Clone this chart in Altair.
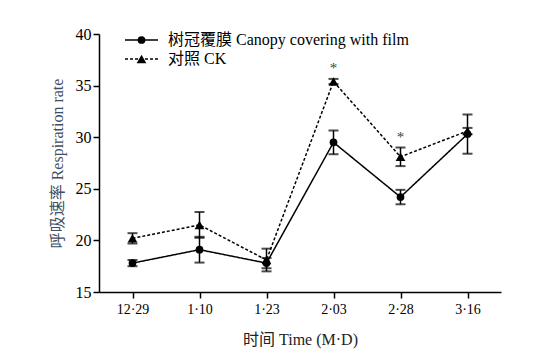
import altair as alt
import pandas as pd

dates = ["12·29", "1·10", "1·23", "2·03", "2·28", "3·16"]
film = [17.8, 19.1, 17.8, 29.5, 24.2, 30.3]
film_err = [0.3, 1.25, 0.5, 1.15, 0.7, 1.9]
ck = [20.2, 21.5, 18.1, 35.4, 28.1, 30.6]
ck_err = [0.5, 1.25, 1.1, 0.25, 0.9, 0.3]
sig_dates = ["2·03", "2·28"]
sig_y = [36.7, 30.0]
series_names = ["树冠覆膜 Canopy covering with film", "对照 CK"]
y_ticks = [15, 20, 25, 30, 35, 40]

FONT = "Liberation Serif, Noto Sans CJK SC"

rows = []
for name, vals, errs in [(series_names[0], film, film_err), (series_names[1], ck, ck_err)]:
    for d, v, e in zip(dates, vals, errs):
        rows.append(dict(date=d, series=name, value=v, lo=v - e, hi=v + e))
df = pd.DataFrame(rows)
sig_df = pd.DataFrame({"date": sig_dates, "y": sig_y})

x_enc = alt.X(
    "date:O",
    sort=dates,
    scale=alt.Scale(type="point", domain=dates, padding=0.5),
    axis=alt.Axis(title="时间 Time (M·D)", labelAngle=0, labelFontSize=14, labelFont=FONT,
                  titlePadding=15, labelPadding=4),
)
y_scale = alt.Scale(domain=[15, 40], nice=False, zero=False)
y_axis = alt.Axis(title="呼吸速率 Respiration rate", values=y_ticks, labelFontSize=16,
                  labelFont=FONT, titlePadding=10, labelPadding=2, titleColor="#3d4f66")

dash_scale = alt.Scale(domain=series_names, range=[[1, 0], [3, 2]])
shape_scale = alt.Scale(domain=series_names, range=["circle", "triangle-up"])
size_scale = alt.Scale(domain=series_names, range=[60, 95])

base = alt.Chart(df)

lines = base.mark_line(color="black", strokeWidth=1.5).encode(
    x=x_enc,
    y=alt.Y("value:Q", scale=y_scale, axis=y_axis),
    strokeDash=alt.StrokeDash("series:N", scale=dash_scale, legend=None),
    detail="series:N",
)
bars = base.mark_rule(color="black", strokeWidth=1.5).encode(
    x=alt.X("date:O", sort=dates), y="lo:Q", y2="hi:Q"
)
cap_lo = base.mark_tick(color="black", size=10, thickness=2).encode(
    x=alt.X("date:O", sort=dates), y="lo:Q"
)
cap_hi = base.mark_tick(color="black", size=10, thickness=2).encode(
    x=alt.X("date:O", sort=dates), y="hi:Q"
)
points = base.mark_point(filled=True, color="black", opacity=1).encode(
    x=alt.X("date:O", sort=dates),
    y="value:Q",
    shape=alt.Shape("series:N", scale=shape_scale, legend=None),
    size=alt.Size("series:N", scale=size_scale, legend=None),
)
stars = alt.Chart(sig_df).mark_text(text="*", font=FONT, fontSize=15, color="#444",
                                    baseline="middle").encode(
    x=alt.X("date:O", sort=dates), y="y:Q"
)

# manual legend
leg_layers = []
leg_specs = [(series_names[0], [1, 0], "circle", 60, 6), (series_names[1], [3, 2], "triangle-up", 95, 25)]
for name, dash, shp, sz, yy in leg_specs:
    ldf = pd.DataFrame({"label": [name]})
    leg_layers.append(alt.Chart(ldf).mark_rule(color="black", strokeWidth=1.5, strokeDash=dash).encode(
        x=alt.value(26), x2=alt.value(59), y=alt.value(yy)))
    leg_layers.append(alt.Chart(ldf).mark_point(filled=True, color="black", opacity=1, size=sz,
                                                shape=shp).encode(
        x=alt.value(42.5), y=alt.value(yy)))
    leg_layers.append(alt.Chart(ldf).mark_text(align="left", baseline="middle", font=FONT,
                                               fontSize=16, color="black").encode(
        x=alt.value(69), y=alt.value(yy), text="label:N"))

chart = alt.layer(lines, bars, cap_lo, cap_hi, points, stars, *leg_layers).properties(
    width=402,
    height=258,
    autosize=alt.AutoSizeParams(type="none"),
    padding={"left": 91, "top": 26, "right": 37, "bottom": 59},
).configure_view(stroke=None).configure_axis(
    grid=False,
    domainColor="black",
    domainWidth=1.5,
    tickColor="black",
    tickWidth=1.5,
    tickSize=6,
    labelColor="black",
    labelFont=FONT,
    titleFont=FONT,
    titleFontSize=16,
    titleFontWeight="normal",
    titleColor="#222",
)

chart.save("out.html", embed_options={"renderer": "svg", "actions": False})
